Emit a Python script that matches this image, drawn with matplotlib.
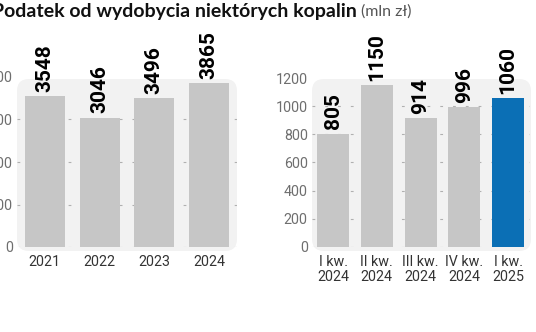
import matplotlib
matplotlib.use("Agg")
import matplotlib.pyplot as plt
from matplotlib.patches import FancyBboxPatch
from matplotlib.transforms import IdentityTransform

years = ["2021", "2022", "2023", "2024"]
year_values = [3548, 3046, 3496, 3865]
year_ticks = [0, 1000, 2000, 3000, 4000]

quarters = ["I kw.\n2024", "II kw.\n2024", "III kw.\n2024", "IV kw.\n2024", "I kw.\n2025"]
quarter_values = [805, 1150, 914, 996, 1060]
quarter_ticks = [0, 200, 400, 600, 800, 1000, 1200]

title_main = "Podatek od wydobycia niektórych kopalin"
title_unit = "(mln zł)"

GRAY = "#c6c6c6"
BLUE = "#0b6fb5"
PANEL = "#f2f2f2"
W, H = 536, 332

fig = plt.figure(figsize=(W / 100, H / 100), dpi=100)
fig.patch.set_facecolor("white")

tick_font = ["Roboto", "DejaVu Sans"]
val_font = ["Roboto", "DejaVu Sans"]


def panel(x0, x1, ytop, ybot):
    p = FancyBboxPatch((x0, H - ybot), x1 - x0, ybot - ytop,
                       boxstyle="round,pad=0,rounding_size=12",
                       transform=IdentityTransform(), facecolor=PANEL,
                       edgecolor="none", zorder=0)
    fig.add_artist(p)


def draw(ax, labels, values, ticks, colors, xlim):
    ax.set_zorder(1)
    ax.patch.set_visible(False)
    x = list(range(len(values)))
    for t in ticks[:-1]:
        ax.axhline(t, color="#b0b0b0", lw=0.8, ls=(0, (2.5, 9)), zorder=1)
    ax.bar(x, values, width=0.73, color=colors, zorder=2)
    for xi, v in zip(x, values):
        ax.annotate(str(v), (xi, v), xytext=(0, 3), textcoords="offset points",
                    rotation=90, ha="center", va="bottom", fontsize=15,
                    fontweight="bold", family=val_font, color="black",
                    annotation_clip=False)
    ax.set_xlim(*xlim)
    ax.set_ylim(ticks[0], ticks[-1])
    ax.set_yticks(ticks)
    ax.set_yticklabels([str(t) for t in ticks], family=tick_font,
                       fontsize=10.3, color="#6e6e6e")
    ax.set_xticks(x)
    ax.set_xticklabels(labels, family=tick_font, fontsize=10.3,
                       color="#333333", linespacing=1.05)
    ax.tick_params(axis="y", length=0, pad=3)
    ax.tick_params(axis="x", length=0, pad=6)
    for s in ax.spines.values():
        s.set_visible(False)


panel(17, 237, 79, 251)
panel(312, 531, 79, 251)

ax1 = fig.add_axes([17 / W, (H - 247) / H, 220 / W, 170 / H])
draw(ax1, years, year_values, year_ticks, [GRAY] * 4, (-0.51, 3.51))

ax2 = fig.add_axes([312 / W, (H - 246.7) / H, 218 / W, 168.6 / H])
draw(ax2, quarters, quarter_values, quarter_ticks,
     [GRAY] * 4 + [BLUE], (-0.48, 4.5))

fig.text(357 / W, (H - 12) / H, title_main, ha="right", va="center",
         fontsize=14, fontweight="bold", family=["Lato", "DejaVu Sans"],
         color="#111111")
fig.text(361 / W, (H - 12) / H, title_unit, ha="left", va="center",
         fontsize=11.5, family=["Lato", "DejaVu Sans"],
         color="#555555")

fig.savefig("out.png", dpi=100, facecolor="white")
